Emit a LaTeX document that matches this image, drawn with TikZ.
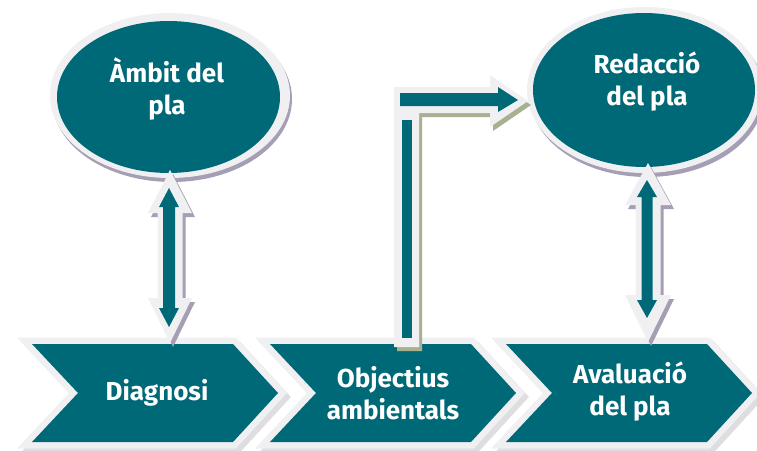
\documentclass[tikz,border=0pt]{standalone}
\usepackage{fontspec}
\setmainfont{Fira Sans}
\definecolor{teal}{RGB}{0,105,120}
\definecolor{ring}{RGB}{240,240,242}
\definecolor{shadowp}{RGB}{166,158,180}
\definecolor{olive}{RGB}{168,176,146}
\definecolor{chevsh}{RGB}{222,222,224}
\newcommand\ChevPath[1]{({#1},344) -- ({#1+201},344) -- ({#1+246},393) -- ({#1+201},442) -- ({#1},442) -- ({#1+46},393) -- cycle}
% double arrow: cx, top, bottom, head half width, top head length, bottom head length, shaft half width
\newcommand\DArrowPath[7]{({#1},{#2}) -- ({#1+#4},{#2+#5}) -- ({#1+#7},{#2+#5}) -- ({#1+#7},{#3-#6}) -- ({#1+#4},{#3-#6}) -- ({#1},{#3}) -- ({#1-#4},{#3-#6}) -- ({#1-#7},{#3-#6}) -- ({#1-#7},{#2+#5}) -- ({#1-#4},{#2+#5}) -- cycle}
\tikzset{
  lbl/.style={text=white, align=center, font=\bfseries\fontsize{26}{32}\selectfont, inner sep=0pt},
}
\begin{document}
\begin{tikzpicture}[x=1pt,y=-1pt]
\useasboundingbox (0,0) rectangle (757,450);
% ---- chevrons ----
\foreach \lx in {32,270,506}{
  \draw[chevsh, line width=13pt, miter limit=4, shift={(4,4)}] \ChevPath{\lx};
}
\foreach \lx in {32,270,506}{
  \draw[ring, line width=13pt, miter limit=4] \ChevPath{\lx};
  \fill[teal] \ChevPath{\lx};
}
% ---- ellipses ----
\fill[shadowp] (172,99) ellipse [x radius=120, y radius=83];
\fill[ring] (170,95.5) ellipse [x radius=120, y radius=82.5];
\fill[teal] (168.5,97) ellipse [x radius=111.5, y radius=76];
\fill[shadowp] (647,94) ellipse [x radius=117.5, y radius=83];
\fill[ring] (644.5,90) ellipse [x radius=117.5, y radius=83];
\fill[teal] (644,90) ellipse [x radius=111, y radius=77];
% ---- elbow arrow ----
\fill[olive, shift={(3,4)}] (394,87) -- (490,87) -- (490,75) -- (528,101) -- (490,127) -- (490,113) -- (419,113) -- (419,347) -- (394,347) -- cycle;
\fill[ring] (394,87) -- (490,87) -- (490,75) -- (528,101) -- (490,127) -- (490,113) -- (419,113) -- (419,347) -- (394,347) -- cycle;
\fill[teal] (402,120) rectangle (412,338);
\fill[teal] (400,93) -- (498,93) -- (498,87) -- (518,100) -- (498,112) -- (498,106) -- (400,106) -- cycle;
% ---- double arrows ----
\fill[shadowp, shift={(3,4)}] \DArrowPath{170}{170}{343}{22}{43}{45}{12.5};
\fill[ring] \DArrowPath{170}{170}{343}{22}{43}{45}{12.5};
\fill[teal] \DArrowPath{169}{188}{327}{10}{19}{19}{6};
\fill[shadowp, shift={(3,4)}] \DArrowPath{648}{163}{342}{23}{42}{47}{12.5};
\fill[ring] \DArrowPath{648}{163}{342}{23}{42}{47}{12.5};
\fill[teal] \DArrowPath{647}{180}{318}{10}{17}{18}{5.5};
% ---- labels ----
\node[lbl] (amb) at (167,89) {Àmbit del\\pla};
\node[lbl] (red) at (647,82) {Redacció\\del pla};
\node[lbl] (diag) at (157,393) {Diagnosi};
\node[lbl] (obj) at (393,393) {Objectius\\ambientals};
\node[lbl] (aval) at (630,392) {Avaluació\\del pla};
\end{tikzpicture}
\end{document}
